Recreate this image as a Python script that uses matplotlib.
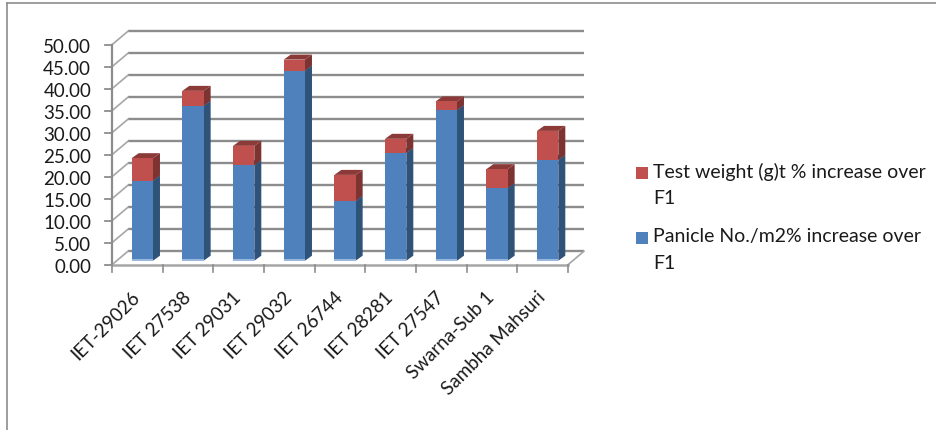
import matplotlib
matplotlib.use('Agg')
import matplotlib.pyplot as plt
from matplotlib.patches import Polygon
from matplotlib.transforms import ScaledTranslation

varieties = ['IET-29026', 'IET 27538', 'IET 29031', 'IET 29032', 'IET 26744',
             'IET 28281', 'IET 27547', 'Swarna-Sub 1', 'Sambha Mahsuri']
panicle = [18.2, 35.2, 21.7, 43.2, 13.6, 24.5, 34.2, 16.5, 22.9]
test_weight = [5.1, 3.4, 4.4, 2.5, 5.9, 3.2, 2.0, 4.3, 6.6]
yticks = [0, 5, 10, 15, 20, 25, 30, 35, 40, 45, 50]

W, H = 936, 431
BLUE, BLUE_SIDE = '#4f81bd', '#2f5279'
RED, RED_SIDE, RED_TOP = '#c0504d', '#7d3331', '#8b3a38'
GRID = '#8c8c8c'
TEXT = '#1a1a1a'

plt.rcParams['font.family'] = ['Lato', 'DejaVu Sans']
fig = plt.figure(figsize=(W / 100, H / 100), dpi=100)
ax = fig.add_axes([112 / W, 1 - 265.7 / H, 456 / W, 220 / H])
ax.set_xlim(-0.5, 8.5)
ax.set_ylim(0, 50)
ax.patch.set_visible(False)
for s in ax.spines.values():
    s.set_visible(False)

XPX = 50.67
YPX = 4.4


def px(dx, dy):
    return ax.transData + ScaledTranslation(dx / 100, dy / 100, fig.dpi_scale_trans)


def box3d(x, bottom, height, front, side, top):
    # front face plus the two visible faces, shifted off the axis by a few pixels
    t = px(5, 4)
    w = 0.21
    ax.bar(x, height, 0.42, bottom=bottom, color=front, transform=t, zorder=5, clip_on=False)
    dx = 7 / XPX
    dy = 5 / YPX
    y0, y1 = bottom, bottom + height
    ax.add_patch(Polygon([(x + w, y0), (x + w + dx, y0 + dy), (x + w + dx, y1 + dy), (x + w, y1)],
                         color=side, lw=0, transform=t, zorder=4, clip_on=False))
    ax.add_patch(Polygon([(x - w, y1), (x - w + dx, y1 + dy), (x + w + dx, y1 + dy), (x + w, y1)],
                         color=top, lw=0, transform=t, zorder=4, clip_on=False))


# back wall gridlines and the slanted bits joining them to the axis
back = px(16, 13.5)
for v in yticks:
    ax.plot([-0.5, 8.5], [v, v], color=GRID, lw=1.7, transform=back, clip_on=False, zorder=1,
            solid_capstyle='butt')
    ax.plot([-0.5, -0.5 + 16 / XPX], [v, v + 13.5 / YPX], color='#a6a6a6', lw=1.2, clip_on=False, zorder=1)
    ax.plot([-0.5 - 7 / XPX, -0.5], [v, v], color=GRID, lw=1.3, clip_on=False, zorder=2)
ax.plot([-0.5, -0.5], [0, 50], color=GRID, lw=1.6, clip_on=False, zorder=2)
ax.plot([-0.5, 8.5], [0, 0], color='#a6a6a6', lw=1.8, clip_on=False, zorder=2)
ax.plot([8.5, 8.5 + 16 / XPX], [0, 13.5 / YPX], color='#a6a6a6', lw=1.2, clip_on=False, zorder=2)
for k in range(10):
    ax.plot([k - 0.5, k - 0.5], [0, -7 / YPX], color=GRID, lw=1.2, clip_on=False, zorder=2)

for i in range(len(varieties)):
    box3d(i, 0, panicle[i], BLUE, BLUE_SIDE, BLUE_SIDE)
    box3d(i, panicle[i], test_weight[i], RED, RED_SIDE, RED_TOP)
    # pale strip along the foot of each bar
    ax.plot([i - 0.21, i + 0.21], [0.1, 0.1], color='#a9c3e3', lw=1.2, transform=px(5, 4), zorder=6,
            clip_on=False, solid_capstyle='butt')

ax.set_yticks(yticks, ['%.2f' % v for v in yticks])
ax.set_xticks(range(len(varieties)), varieties, rotation=45, ha='right', va='center',
              rotation_mode='anchor')
ax.tick_params(axis='y', length=0, pad=15, labelsize=13.5, labelcolor=TEXT)
ax.tick_params(axis='x', length=0, pad=21, labelsize=13.5, labelcolor=TEXT)

# legend drawn by hand so the wrapped labels sit like the original
for y, col, line1 in [(172, RED, 'Test weight (g)t % increase over'),
                      (237, BLUE, 'Panicle No./m2% increase over')]:
    fig.add_artist(plt.Rectangle((636 / W, 1 - (y + 8) / H), 12 / W, 12 / H, color=col, lw=0,
                                 transform=fig.transFigure))
    fig.text(653 / W, 1 - y / H, line1, fontsize=14, va='center', color=TEXT)
    fig.text(653 / W, 1 - (y + 27) / H, 'F1', fontsize=14, va='center', color=TEXT)

# only the top and left of the outer frame show up in the picture
fig.add_artist(plt.Line2D([6.5 / W, 6.5 / W], [0, 1 - 3.5 / H], color=GRID, lw=1.2, transform=fig.transFigure))
fig.add_artist(plt.Line2D([6.5 / W, 1], [1 - 3.5 / H, 1 - 3.5 / H], color=GRID, lw=1.2, transform=fig.transFigure))

fig.savefig('out.png', dpi=100)
